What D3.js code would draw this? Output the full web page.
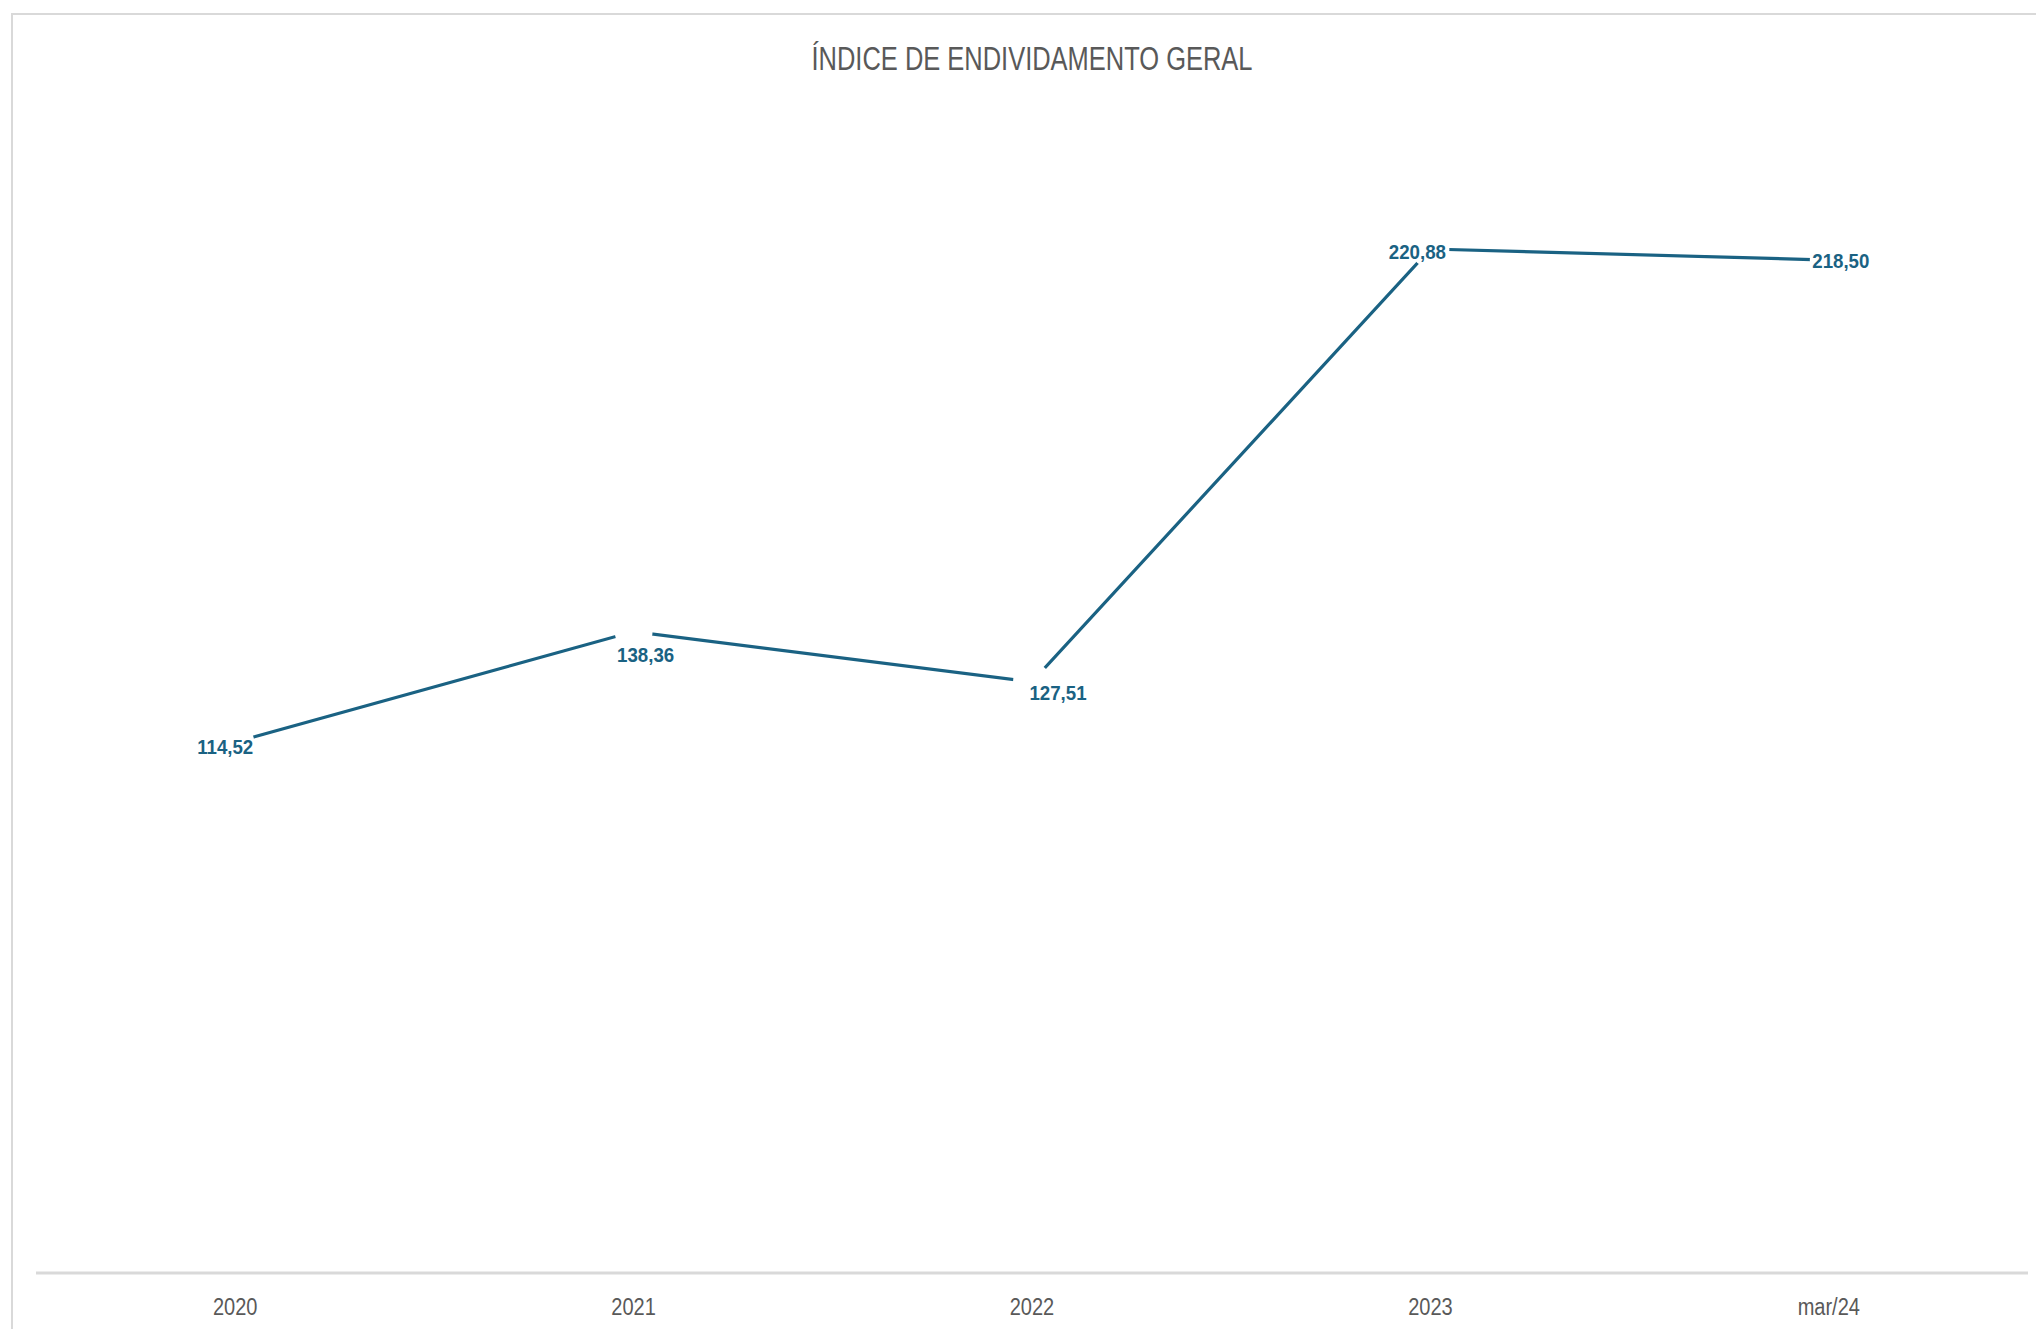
<!DOCTYPE html>
<html>
<head>
<meta charset="utf-8">
<script src="https://cdn.jsdelivr.net/npm/d3@7"></script>
<style>
  html, body { margin: 0; padding: 0; background: #ffffff; }
  svg { display: block; }
</style>
</head>
<body>
<div id="chart"></div>
<script>
// ---- data ----
const categories = ["2020", "2021", "2022", "2023", "mar/24"];
const values = [114.52, 138.36, 127.51, 220.88, 218.50];
const valueLabels = ["114,52", "138,36", "127,51", "220,88", "218,50"];
const title = "ÍNDICE DE ENDIVIDAMENTO GERAL";
const yDomain = [0, 250];

// ---- layout / style (not data) ----
const W = 2036, H = 1329;
const plot = { left: 36, right: 2028, top: 114, bottom: 1273 };
const lineColor = "#1a6283";
const labelOffsets = [[-10, 4], [12, 23], [26, 11], [-13, 2], [12, 0]];
const font = "'Liberation Sans Narrow', 'Arial Narrow', 'Liberation Sans', Arial, sans-serif";

const svg = d3.select("#chart").append("svg")
  .attr("width", W).attr("height", H);

svg.append("rect").attr("width", W).attr("height", H).attr("fill", "#fff");

// chart border (extends beyond right/bottom edges)
svg.append("rect")
  .attr("x", 12).attr("y", 14)
  .attr("width", W + 100).attr("height", H + 100)
  .attr("fill", "none").attr("stroke", "#d9d9d9").attr("stroke-width", 2);

// title
svg.append("text")
  .attr("x", 1032).attr("y", 70)
  .attr("text-anchor", "middle")
  .attr("font-family", font)
  .attr("font-size", 34)
  .attr("fill", "#595959")
  .attr("textLength", 441)
  .attr("lengthAdjust", "spacingAndGlyphs")
  .text(title);

const x = d3.scaleBand().domain(categories).range([plot.left, plot.right]).padding(0);
const y = d3.scaleLinear().domain(yDomain).range([plot.bottom, plot.top]);
const cx = c => x(c) + x.bandwidth() / 2;

// x axis
const xAxis = d3.axisBottom(x).tickSize(0).tickPadding(0);
const gx = svg.append("g").attr("transform", `translate(0,${plot.bottom})`).call(xAxis);
gx.select(".domain").attr("stroke", "#d9d9d9").attr("stroke-width", 3)
  .attr("d", `M${plot.left},0H${plot.right}`);
gx.selectAll(".tick text")
  .attr("font-family", font)
  .attr("font-size", 23)
  .attr("fill", "#595959")
  .attr("y", 0)
  .attr("dy", 0)
  .attr("transform", "translate(0,42) scale(0.87,1)");

// line
const pts = categories.map((c, i) => ({ c, v: values[i], lab: valueLabels[i], off: labelOffsets[i] }));
svg.append("path")
  .datum(pts)
  .attr("fill", "none")
  .attr("stroke", lineColor)
  .attr("stroke-width", 3.2)
  .attr("d", d3.line().x(d => cx(d.c)).y(d => y(d.v)));

// white markers (gaps in line around points)
svg.selectAll("circle.mk").data(pts).enter().append("circle")
  .attr("class", "mk")
  .attr("cx", d => cx(d.c)).attr("cy", d => y(d.v))
  .attr("r", 19).attr("fill", "#fff");

// data labels
svg.selectAll("text.lab").data(pts).enter().append("text")
  .attr("class", "lab")
  .attr("transform", d => `translate(${cx(d.c) + d.off[0]},${y(d.v) + d.off[1]}) scale(0.89,1)`)
  .attr("dy", "0.36em")
  .attr("text-anchor", "middle")
  .attr("font-family", font)
  .attr("font-weight", "bold")
  .attr("font-size", 21)
  .attr("fill", lineColor)
  .text(d => d.lab);
</script>
</body>
</html>
